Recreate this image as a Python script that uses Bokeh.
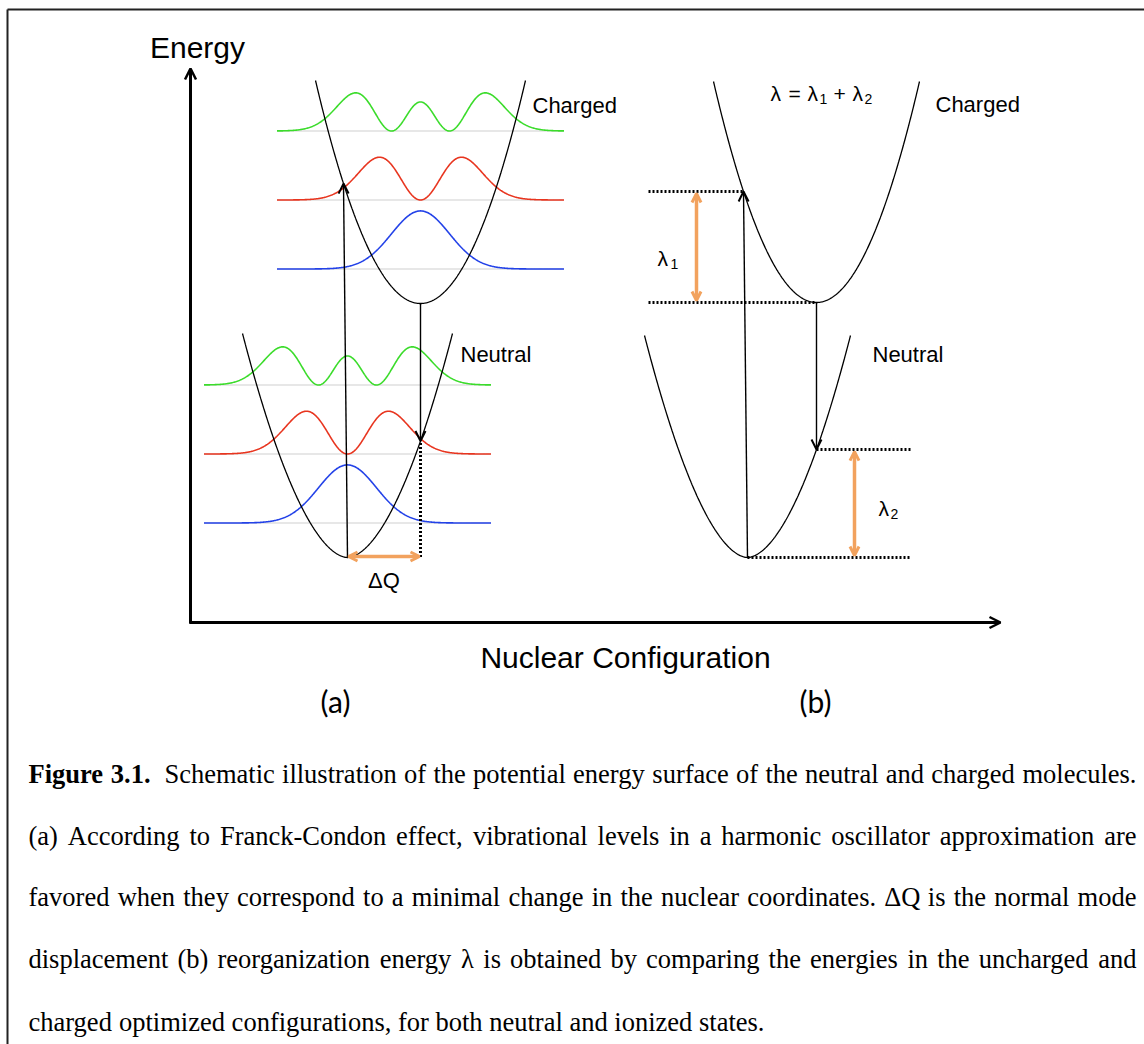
import numpy as np
from math import factorial, sqrt, pi

from bokeh.plotting import figure
from bokeh.models import Range1d, Arrow, OpenHead
from bokeh.core.properties import value
from bokeh.embed import file_html
from bokeh.resources import INLINE

# ---------------------------------------------------------------------------
# Schematic data: Q = nuclear coordinate, E = energy (both in drawing units,
# origin at the corner of the two axes)
# ---------------------------------------------------------------------------
panel_names = ["(a)", "(b)"]
neutral_min_q = [157, 557]
neutral_min_e = [65, 65]
charged_min_q = [230, 626]
charged_min_e = [319, 320]
well_half_width = [105, 103]
neutral_depth = [224, 222]
charged_depth = [223, 221]
neutral_power = 1.8
charged_power = 2.0

quantum = 69                 # spacing of vibrational levels
levels = [0, 1, 2]
level_colors = ["#2342E8", "#E8351F", "#3BDC2B"]
wave_q_per_xi = 41           # horizontal scale of the oscillator wavefunctions
wave_xi_extent = 3.5
density_gain = 103

vertical_tilt = -4           # the absorption arrows lean slightly

axis_q_end = 810
axis_e_end = 554

caption_lines = [
    "Figure 3.1.  Schematic illustration of the potential energy surface of the neutral and charged molecules.",
    "(a) According to Franck-Condon effect, vibrational levels in a harmonic oscillator approximation are",
    "favored when they correspond to a minimal change in the nuclear coordinates. \u0394Q is the normal mode",
    "displacement (b) reorganization energy \u03bb is obtained by comparing the energies in the uncharged and",
    "charged optimized configurations, for both neutral and ionized states.",
]
caption_baselines = [-151, -213, -274, -336, -399]
caption_left, caption_right = -162, 946
CAP_SIZE = 26.5

BLACK = "#000000"
ORANGE = "#F2A25E"
SANS = value("Liberation Sans")
SERIF = value("Liberation Serif")


def neutral_curve(i, q):
    return neutral_min_e[i] + neutral_depth[i] * (np.abs(q - neutral_min_q[i]) / well_half_width[i]) ** neutral_power


def charged_curve(i, q):
    return charged_min_e[i] + charged_depth[i] * (np.abs(q - charged_min_q[i]) / well_half_width[i]) ** charged_power


def hermite(n, xi):
    return [np.ones_like(xi), 2 * xi, 4 * xi ** 2 - 2][n]


def density(n, xi):
    return hermite(n, xi) ** 2 * np.exp(-xi ** 2) / (2 ** n * factorial(n) * sqrt(pi))


# ---------------------------------------------------------------------------
p = figure(width=1144, height=1044,
           x_range=Range1d(-190, 954), y_range=Range1d(-422, 622),
           output_backend="svg", toolbar_location=None,
           x_axis_location=None, y_axis_location=None,
           min_border=0, background_fill_color="white")
p.grid.visible = False
p.outline_line_color = None

# frame of the figure box
p.line([-183, 954], [613, 613], line_color="#222222", line_width=2)
p.line([-183, -183], [613, -422], line_color="#222222", line_width=2)

# axes
p.add_layout(Arrow(end=OpenHead(size=11, line_width=2.5, line_color=BLACK),
                   x_start=0, y_start=-1, x_end=0, y_end=axis_e_end,
                   line_width=3, line_color=BLACK))
p.add_layout(Arrow(end=OpenHead(size=11, line_width=2.5, line_color=BLACK),
                   x_start=-1, y_start=0, x_end=axis_q_end, y_end=0,
                   line_width=3, line_color=BLACK))

# vibrational wavefunctions (panel a only)
xi = np.linspace(-wave_xi_extent, wave_xi_extent, 400)
for q0, e0 in [(neutral_min_q[0], neutral_min_e[0]), (charged_min_q[0], charged_min_e[0])]:
    for n, col in zip(levels, level_colors):
        e_lvl = e0 + (n + 0.5) * quantum
        qs = q0 + xi * wave_q_per_xi
        p.line([qs[0], qs[-1]], [e_lvl, e_lvl], line_color="#CFCFCF", line_width=1)
        p.line(qs, e_lvl + density_gain * density(n, xi), line_color=col, line_width=1.6)

# potential wells
for i in range(2):
    qn = np.linspace(neutral_min_q[i] - well_half_width[i], neutral_min_q[i] + well_half_width[i], 300)
    p.line(qn, neutral_curve(i, qn), line_color=BLACK, line_width=1.3)
    qc = np.linspace(charged_min_q[i] - well_half_width[i], charged_min_q[i] + well_half_width[i], 300)
    p.line(qc, charged_curve(i, qc), line_color=BLACK, line_width=1.3)


def black_arrow(x0, y0, x1, y1):
    p.add_layout(Arrow(end=OpenHead(size=10, line_width=2, line_color=BLACK),
                       x_start=x0, y_start=y0, x_end=x1, y_end=y1,
                       line_width=1.4, line_color=BLACK))


def orange_arrow(x0, y0, x1, y1):
    p.add_layout(Arrow(start=OpenHead(size=9, line_width=3, line_color=ORANGE),
                       end=OpenHead(size=9, line_width=3, line_color=ORANGE),
                       x_start=x0, y_start=y0, x_end=x1, y_end=y1,
                       line_width=3.5, line_color=ORANGE))


def dotted(xs, ys):
    p.line(xs, ys, line_color=BLACK, line_width=3, line_dash="2 2")


up_tip_e = []
down_tip_e = []
for i in range(2):
    # vertical (Franck-Condon) excitation from the neutral minimum
    q_top = neutral_min_q[i] + vertical_tilt
    e_top = float(charged_curve(i, q_top))
    up_tip_e.append(e_top)
    black_arrow(neutral_min_q[i], neutral_min_e[i], q_top, e_top)
    # relaxation back down from the charged minimum
    e_bot = float(neutral_curve(i, charged_min_q[i]))
    down_tip_e.append(e_bot)
    black_arrow(charged_min_q[i], charged_min_e[i], charged_min_q[i], e_bot)

# panel (a): normal-mode displacement
dotted([charged_min_q[0], charged_min_q[0]], [down_tip_e[0] - 2, neutral_min_e[0]])
orange_arrow(neutral_min_q[0] + 1, neutral_min_e[0] + 1, charged_min_q[0] - 1, neutral_min_e[0] + 1)

# panel (b): reorganization energies
lam1 = up_tip_e[1] - charged_min_e[1]
lam2 = down_tip_e[1] - neutral_min_e[1]
lvl_left, lvl_right = 458, 720
dotted([lvl_left, neutral_min_q[1] + vertical_tilt], [up_tip_e[1], up_tip_e[1]])
dotted([lvl_left, charged_min_q[1]], [charged_min_e[1], charged_min_e[1]])
dotted([charged_min_q[1], lvl_right], [down_tip_e[1], down_tip_e[1]])
dotted([neutral_min_q[1], lvl_right], [neutral_min_e[1], neutral_min_e[1]])
lam1_q, lam2_q = 506, 664
orange_arrow(lam1_q, charged_min_e[1] + 2, lam1_q, charged_min_e[1] + lam1 - 2)
orange_arrow(lam2_q, neutral_min_e[1] + 2, lam2_q, neutral_min_e[1] + lam2 - 2)

# ---------------------------------------------------------------------------
# labels
p.text(x=[7], y=[575], text=["Energy"], text_font=SANS, text_font_size="30px",
       text_align="center", text_baseline="middle", text_color=BLACK)
p.text(x=[435], y=[-35], text=["Nuclear Configuration"], text_font=SANS, text_font_size="30px",
       text_align="center", text_baseline="middle", text_color=BLACK)
p.text(x=[145, 625], y=[-78, -78], text=panel_names, text_font=value("Lato"), text_font_size="30px",
       text_align="center", text_baseline="middle", text_color=BLACK)
p.text(x=[342, 745, 270, 682], y=[517, 518, 268, 268],
       text=["Charged", "Charged", "Neutral", "Neutral"], text_font=SANS, text_font_size="22px",
       text_align="left", text_baseline="middle", text_color=BLACK)
p.text(x=[(neutral_min_q[0] + charged_min_q[0]) / 2], y=[neutral_min_e[0] - 23], text=["\u0394Q"],
       text_font=SANS, text_font_size="22px", text_align="center", text_baseline="middle",
       text_color=BLACK)

# lambda labels with subscripts
main_parts = [("\u03bb", 580, 529), ("=", 598, 529), ("\u03bb", 617, 529), ("+", 643, 529),
              ("\u03bb", 662, 529), ("\u03bb", 467, 364), ("\u03bb", 688, 114)]
sub_parts = [("1", 629, 524), ("2", 674, 524), ("1", 480, 359), ("2", 700, 109)]
p.text(x=[m[1] for m in main_parts], y=[m[2] for m in main_parts], text=[m[0] for m in main_parts],
       text_font=SANS, text_font_size="21px", text_align="left", text_baseline="alphabetic",
       text_color=BLACK)
p.text(x=[s[1] for s in sub_parts], y=[s[2] for s in sub_parts], text=[s[0] for s in sub_parts],
       text_font=SANS, text_font_size="14px", text_align="left", text_baseline="alphabetic",
       text_color=BLACK)

# ---------------------------------------------------------------------------
# justified caption (Times metrics, 1/1000 em)
TIMES = {' ': 250, '(': 333, ')': 333, ',': 250, '-': 333, '.': 250, ':': 278,
         '0': 500, '1': 500, '2': 500, '3': 500, '4': 500, '5': 500, '6': 500, '7': 500,
         '8': 500, '9': 500, '\u0394': 612, '\u03bb': 500}
TIMES.update(dict(zip("abcdefghijklmnopqrstuvwxyz",
                      [444, 500, 444, 500, 444, 333, 500, 500, 278, 278, 500, 278, 778,
                       500, 500, 500, 500, 333, 389, 278, 500, 500, 722, 500, 500, 444])))
TIMES.update(dict(zip("ABCDEFGHIJKLMNOPQRSTUVWXYZ",
                      [722, 667, 667, 722, 611, 556, 722, 722, 333, 389, 722, 611, 889,
                       722, 722, 556, 722, 667, 556, 611, 722, 722, 944, 722, 722, 611])))
TIMES_BOLD = dict(TIMES)
TIMES_BOLD.update({'F': 611, 'i': 278, 'g': 500, 'u': 556, 'r': 444, 'e': 444})


def text_width(word, bold=False):
    table = TIMES_BOLD if bold else TIMES
    return sum(table.get(c, 500) for c in word) * CAP_SIZE / 1000.0


reg_x, reg_y, reg_t = [], [], []
bold_x, bold_y, bold_t = [], [], []
space_w = text_width(" ")
for li, (line, base) in enumerate(zip(caption_lines, caption_baselines)):
    words = line.split()
    is_bold = [li == 0 and k < 2 for k in range(len(words))]
    widths = [text_width(w, b) for w, b in zip(words, is_bold)]
    extra = space_w if li == 0 else 0.0
    if li == len(caption_lines) - 1:
        gap = space_w
    else:
        gap = (caption_right - caption_left - sum(widths) - extra) / (len(words) - 1)
    x = caption_left
    for k, (w, wd, b) in enumerate(zip(words, widths, is_bold)):
        if b:
            bold_x.append(x); bold_y.append(base); bold_t.append(w)
        else:
            reg_x.append(x); reg_y.append(base); reg_t.append(w)
        x += wd + gap
        if li == 0 and k == 1:
            x += extra

p.text(x=reg_x, y=reg_y, text=reg_t, text_font=SERIF, text_font_size=f"{CAP_SIZE}px",
       text_align="left", text_baseline="alphabetic", text_color=BLACK)
p.text(x=bold_x, y=bold_y, text=bold_t, text_font=SERIF, text_font_size=f"{CAP_SIZE}px",
       text_font_style="bold", text_align="left", text_baseline="alphabetic", text_color=BLACK)

open("out.html", "w").write(file_html(p, INLINE))
